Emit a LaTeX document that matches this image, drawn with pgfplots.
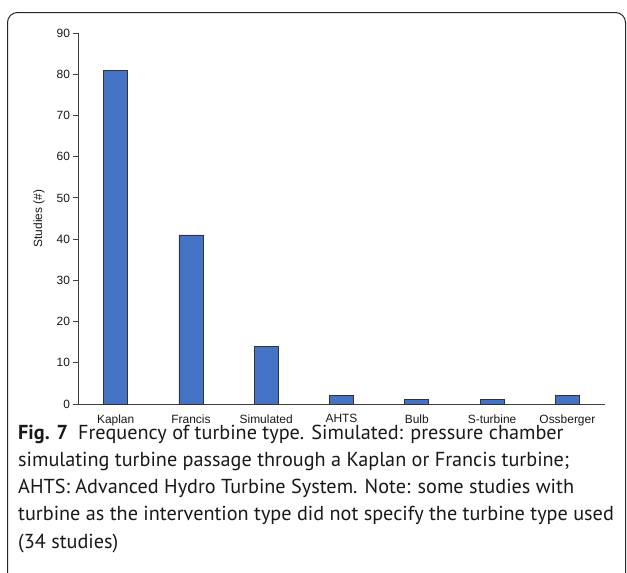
\documentclass[border=0pt]{standalone}
\usepackage{pgfplots}
\pgfplotsset{compat=1.18}
\usepackage{fontspec}
\setmainfont{Liberation Sans}
\newfontfamily\capfont{PT Sans}
\definecolor{barblue}{HTML}{4472C4}
\begin{document}
\begin{tikzpicture}
\path[use as bounding box, clip] (0,0) rectangle (627bp,-573bp);
\fill[white] (0,0) rectangle (627bp,-573bp);
\draw[line width=1bp, rounded corners=10bp, black!85] (7.5bp,-12.5bp) rectangle (625.5bp,-640bp);
\begin{axis}[
  at={(78bp,-404bp)}, anchor=south west,
  scale only axis, width=527bp, height=371bp,
  xmin=-0.5, xmax=6.5, ymin=0, ymax=90,
  axis lines=left,
  x axis line style={-, black!75, line width=0.9bp},
  y axis line style={-, black!75, line width=0.9bp},
  xtick={0,...,6},
  xticklabels={Kaplan,Francis,Simulated,AHTS,Bulb,S-turbine,Ossberger},
  x tick style={draw=none},
  xticklabel style={yshift=-2.5bp},
  ytick={0,10,...,90},
  y tick style={black!75, line width=0.9bp},
  tick align=outside,
  major tick length=4.5bp,
  tick label style={font=\fontsize{12}{14}\selectfont, text=black!90},
  /pgf/number format/assume math mode=true,
  ylabel={Studies (\#)},
  ylabel style={font=\fontsize{12}{14}\selectfont, text=black!90, at={(axis description cs:-0.074,0.5)}, anchor=center},
  ybar, bar width=24bp,
]
\addplot[fill=barblue, draw=black!80, line width=0.8bp] coordinates {(0,81) (1,41) (2,14) (3,2) (4,1) (5,1) (6,2)};
\end{axis}
\node[anchor=base west, align=left, inner sep=0, text=black!90, font=\capfont\fontsize{20.3}{27.2}\selectfont] at (18bp,-548bp)
{\textbf{Fig. 7}\hspace{0.5em}Frequency of turbine type. Simulated: pressure chamber\\
simulating turbine passage through a Kaplan or Francis turbine;\\
AHTS: Advanced Hydro Turbine System. Note: some studies with\\
turbine as the intervention type did not specify the turbine type used\\
(34 studies)};
\end{tikzpicture}
\end{document}
